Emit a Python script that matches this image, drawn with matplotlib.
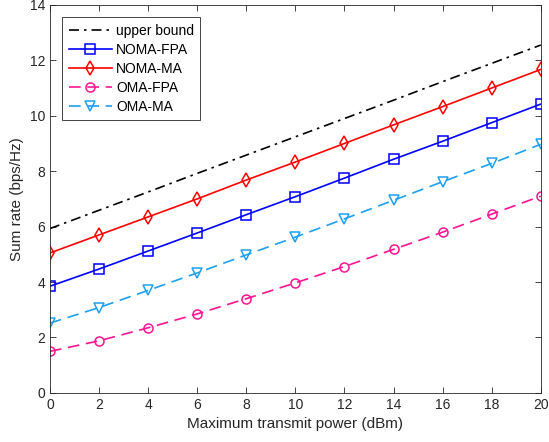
import matplotlib
matplotlib.use("Agg")
import matplotlib.pyplot as plt

plt.rcParams["font.family"] = ["Liberation Sans", "DejaVu Sans"]
plt.rcParams["xtick.direction"] = "in"
plt.rcParams["ytick.direction"] = "in"

power = [0, 2, 4, 6, 8, 10, 12, 14, 16, 18, 20]
upper_bound = [5.93, 6.59, 7.25, 7.92, 8.58, 9.24, 9.90, 10.56, 11.23, 11.89, 12.55]
noma_fpa = [3.85, 4.47, 5.12, 5.77, 6.43, 7.08, 7.75, 8.43, 9.08, 9.75, 10.42]
noma_ma = [5.05, 5.70, 6.35, 7.00, 7.68, 8.33, 9.00, 9.67, 10.33, 11.00, 11.67]
oma_fpa = [1.50, 1.88, 2.35, 2.85, 3.40, 3.97, 4.56, 5.18, 5.80, 6.45, 7.10]
oma_ma = [2.52, 3.08, 3.70, 4.33, 4.98, 5.62, 6.28, 6.95, 7.62, 8.28, 8.97]

fig = plt.figure(figsize=(5.49, 4.42), dpi=100)
ax = fig.add_axes([0.091, 0.111, 0.894, 0.878])

ax.plot(power, upper_bound, color="black", linestyle=(0, (6, 3, 1.5, 3)), linewidth=1.2,
        label="upper bound")
ax.plot(power, noma_fpa, color="#0000ff", marker="s", markersize=6.5, markerfacecolor="none",
        markeredgewidth=1.1, linewidth=1.2, label="NOMA-FPA")
ax.plot(power, noma_ma, color="#ff0000", marker="d", markersize=7.5, markerfacecolor="none",
        markeredgewidth=1.1, linewidth=1.2, label="NOMA-MA")
ax.plot(power, oma_fpa, color="#ff1493", marker="o", markersize=6.5, markerfacecolor="none",
        markeredgewidth=1.1, linestyle=(0, (7, 4)), linewidth=1.2, label="OMA-FPA")
ax.plot(power, oma_ma, color="#1ea0f0", marker="v", markersize=7, markerfacecolor="none",
        markeredgewidth=1.1, linestyle=(0, (7, 4)), linewidth=1.2, label="OMA-MA")

ax.set_xlim(0, 20)
ax.set_ylim(0, 14)
ax.set_xticks(range(0, 21, 2))
ax.set_yticks(range(0, 15, 2))
ax.tick_params(labelsize=10, top=True, right=True, length=4, width=0.6, colors="#262626")
for s in ax.spines.values():
    s.set_linewidth(0.6)
    s.set_color("#262626")
ax.set_xlabel("Maximum transmit power (dBm)", fontsize=11, color="#262626")
ax.set_ylabel("Sum rate (bps/Hz)", fontsize=11, color="#262626")

leg = ax.legend(loc="upper left", fontsize=10, fancybox=False, framealpha=1,
                edgecolor="#262626", handlelength=3.1, borderaxespad=0.9,
                labelspacing=0.37, handletextpad=0.3, borderpad=0.45)
leg.get_frame().set_linewidth(0.6)

fig.savefig("out.png", dpi=100)
